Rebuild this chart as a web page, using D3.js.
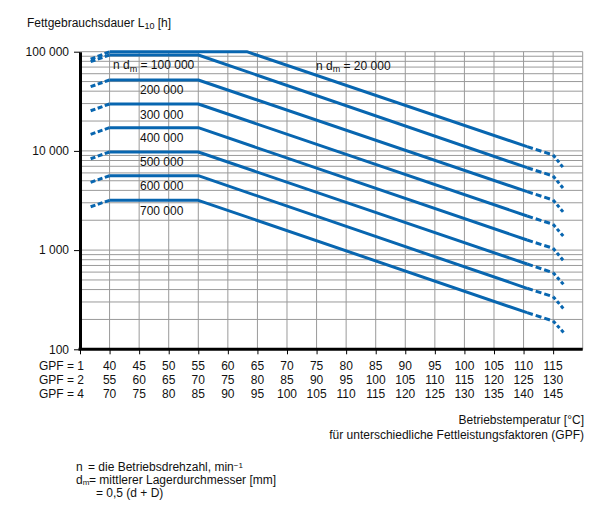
<!DOCTYPE html>
<html>
<head>
<meta charset="utf-8">
<script src="https://cdn.jsdelivr.net/npm/d3@7/dist/d3.min.js"></script>
<style>
  html, body { margin: 0; padding: 0; background: #fff; }
  svg { display: block; font-family: "Liberation Sans", Arial, sans-serif; }
  text { fill: #111; font-size: 12px; }
</style>
</head>
<body>
<svg id="chart" width="608" height="527"></svg>
<script>
// ---------- data (temperatures on the GPF = 1 scale, L10 in hours) ----------
const seriesNames   = ["20 000", "100 000", "200 000", "300 000", "400 000", "500 000", "600 000", "700 000"];
const tempStart     = 36.8;   // start of left dashed segment
const tempFlat      = 40;     // start of solid flat part
const tempKnee      = [63.2, 55, 55, 55, 55, 55, 55, 55];
const tempSolidEnd  = 110.6;
const tempDashMid   = 115;
const tempEnd       = 116.8;
const startVals     = [84000, 79300, 44400, 25400, 14700, 8340, 4825, 2738];
const flatVals      = [100000, 92700, 51850, 29700, 17140, 9750, 5623, 3177];
const solidEndVals  = [11030, 6770, 3880, 2206, 1264, 724, 412, 234];
const midVals       = [9100, 5580, 3200, 1820, 1043, 592, 339, 193];
const endVals       = [6680, 4130, 2380, 1365, 776, 448, 255, 147];

const yTickValues   = [100, 1000, 10000, 100000];
const xTickValues   = [35, 40, 45, 50, 55, 60, 65, 70, 75, 80, 85, 90, 95, 100, 105, 110, 115];
const gpf1Labels    = [40, 45, 50, 55, 60, 65, 70, 75, 80, 85, 90, 95, 100, 105, 110, 115];
const gpf2Labels    = [55, 60, 65, 70, 75, 80, 85, 90, 95, 100, 105, 110, 115, 120, 125, 130];
const gpf4Labels    = [70, 75, 80, 85, 90, 95, 100, 105, 110, 115, 120, 125, 130, 135, 140, 145];
const gpfRowNames   = ["GPF = 1", "GPF = 2", "GPF = 4"];

// ---------- layout ----------
const svg = d3.select("#chart");
const x = d3.scaleLinear().domain([35, 120]).range([80, 582.7]);
const y = d3.scaleLog().domain([100, 100000]).range([349.3, 51.7]);
const blue = "#0866b0";
const grid = "#9a9a9a";
const loc = d3.formatLocale({ decimal: ",", thousands: " ", grouping: [3], currency: ["", ""] });
const fmt = loc.format(",d");

// ---------- grid ----------
const g = svg.append("g");
g.selectAll("line.h").data(y.ticks()).join("line")
  .attr("x1", x(35)).attr("x2", x(120))
  .attr("y1", d => y(d)).attr("y2", d => y(d))
  .attr("stroke", grid).attr("stroke-width", 1);
g.selectAll("line.v").data(d3.range(40, 121, 5)).join("line")
  .attr("x1", d => x(d)).attr("x2", d => x(d))
  .attr("y1", y(100000)).attr("y2", y(100))
  .attr("stroke", grid).attr("stroke-width", 1);

// ---------- curves ----------
const line = d3.line().x(d => x(d[0])).y(d => y(d[1]));
const curves = svg.append("g").attr("fill", "none").attr("stroke", blue).attr("stroke-width", 3);
seriesNames.forEach((name, i) => {
  curves.append("path")
    .attr("d", line([[tempStart, startVals[i]], [tempFlat, flatVals[i]]]))
    .attr("stroke-dasharray", "5,2.5");
  curves.append("path")
    .attr("d", line([[tempFlat, flatVals[i]], [tempKnee[i], flatVals[i]], [tempSolidEnd, solidEndVals[i]]]))
    .attr("stroke-linejoin", "round");
  curves.append("path")
    .attr("d", line([[tempSolidEnd, solidEndVals[i]], [tempDashMid, midVals[i]]]))
    .attr("stroke-dasharray", "6,3");
  curves.append("path")
    .attr("d", line([[tempDashMid, midVals[i]], [tempEnd, endVals[i]]]))
    .attr("stroke-dasharray", "3.5,2.5");
});

// ---------- axes ----------
const yAxis = svg.append("g").attr("transform", `translate(${x(35)},0)`)
  .call(d3.axisLeft(y).tickValues(yTickValues).tickSize(6).tickSizeOuter(0).tickFormat(d => fmt(d)));
yAxis.select(".domain").attr("stroke", "#000").attr("stroke-width", 3);
yAxis.selectAll(".tick line").attr("stroke", "#000").attr("stroke-width", 1);
yAxis.selectAll(".tick text").attr("x", -11).attr("font-size", 12)
  .attr("font-family", "Liberation Sans, Arial, sans-serif").attr("fill", "#111");

const xAxis = svg.append("g").attr("transform", `translate(0,${y(100)})`)
  .call(d3.axisBottom(x).tickValues(xTickValues).tickSize(5).tickSizeOuter(0).tickFormat(""));
xAxis.select(".domain").attr("stroke", "#000").attr("stroke-width", 3)
  .attr("d", `M${x(35) - 1.5},0H${x(120)}`);
xAxis.selectAll(".tick line").attr("stroke", "#000").attr("stroke-width", 1);

// GPF rows
const rows = [gpf1Labels, gpf2Labels, gpf4Labels];
const rowY = [369.5, 383.5, 397.5];
rows.forEach((labels, r) => {
  svg.append("text").attr("x", 39).attr("y", rowY[r]).text(gpfRowNames[r]);
  svg.append("g").selectAll("text").data(labels).join("text")
    .attr("x", (d, i) => x(gpf1Labels[i]))
    .attr("y", rowY[r])
    .attr("text-anchor", "middle")
    .text(d => d);
});

// ---------- titles ----------
const yt = svg.append("text").attr("x", 27).attr("y", 27);
yt.append("tspan").text("Fettgebrauchsdauer L");
yt.append("tspan").attr("font-size", 9).attr("dy", 2).text("10");
yt.append("tspan").attr("dy", -2).text(" [h]");

svg.append("text").attr("x", 584).attr("y", 423.5).attr("text-anchor", "end").text("Betriebstemperatur [°C]");
svg.append("text").attr("x", 584).attr("y", 438.5).attr("text-anchor", "end").text("für unterschiedliche Fettleistungsfaktoren (GPF)");

// ---------- series labels ----------
function ndm(xp, yp, val) {
  const t = svg.append("text").attr("x", xp).attr("y", yp);
  t.append("tspan").text("n d");
  t.append("tspan").attr("font-size", 9).attr("dy", 2.5).text("m");
  t.append("tspan").attr("dy", -2.5).text(" = " + val);
}
ndm(316, 69.5, seriesNames[0]);
ndm(113, y(flatVals[1]) + 14.5, seriesNames[1]);
seriesNames.slice(2).forEach((name, k) => {
  const i = k + 2;
  svg.append("text").attr("x", 140).attr("y", y(flatVals[i]) + 14.5).text(name);
});

// ---------- notes ----------
svg.append("text").attr("x", 76).attr("y", 470.5).text("n");
const n1 = svg.append("text").attr("x", 88).attr("y", 470.5);
n1.append("tspan").text("= die Betriebsdrehzahl, min");
n1.append("tspan").attr("font-size", 8).attr("dy", -3).text("−1");
const n2a = svg.append("text").attr("x", 76).attr("y", 483.5);
n2a.append("tspan").text("d");
n2a.append("tspan").attr("font-size", 8).attr("dy", 1.5).text("m");
svg.append("text").attr("x", 89).attr("y", 483.5).text("= mittlerer Lagerdurchmesser [mm]");
svg.append("text").attr("x", 96).attr("y", 496.5).text("= 0,5 (d + D)");
</script>
</body>
</html>
